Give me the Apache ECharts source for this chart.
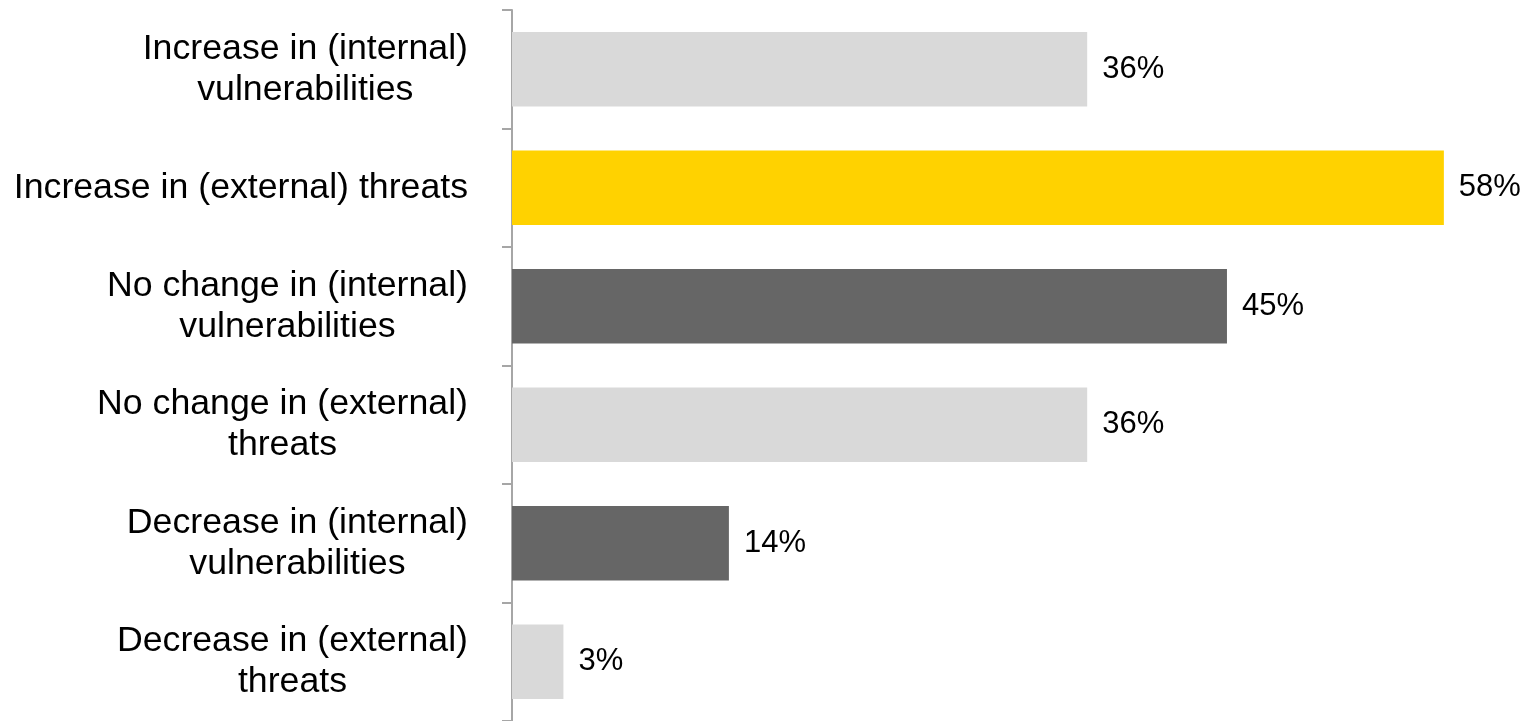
<!DOCTYPE html>
<html>
<head>
<meta charset="utf-8">
<script src="https://cdn.jsdelivr.net/npm/echarts@6/dist/echarts.min.js"></script>
<style>
html,body{margin:0;padding:0;background:#fff;}
#chart{width:1527px;height:721px;}
</style>
</head>
<body>
<div id="chart"></div>
<script>
// Data
const categories = [
  'Increase in (internal)\nvulnerabilities',
  'Increase in (external) threats',
  'No change in (internal)\nvulnerabilities',
  'No change in (external)\nthreats',
  'Decrease in (internal)\nvulnerabilities',
  'Decrease in (external)\nthreats'
];
const values = [35.8, 58.0, 44.5, 35.8, 13.5, 3.2];

// Styles (kept apart from data)
const barColors = ['#d9d9d9', '#ffd200', '#666666', '#d9d9d9', '#666666', '#d9d9d9'];
const FONT = '"Liberation Sans", Arial, sans-serif';

const chart = echarts.init(document.getElementById('chart'), null, {renderer: 'canvas'});
chart.setOption({
  animation: false,
  backgroundColor: '#ffffff',
  grid: {left: 512, right: 51, top: 10, bottom: 0, containLabel: false, outerBoundsMode: 'none'},
  xAxis: {
    type: 'value', min: 0, max: 60, show: false,
    splitLine: {show: false}
  },
  yAxis: {
    type: 'category',
    inverse: true,
    data: categories,
    axisLine: {show: true, lineStyle: {color: '#a6a6a6', width: 2}},
    axisTick: {show: true, length: 10, alignWithLabel: false, lineStyle: {color: '#a6a6a6', width: 2}},
    axisLabel: {
      interval: 0,
      margin: 44,
      align: 'right',
      formatter: function (v) {
        return v.split('\n').map(function (l) { return '{c|' + l + '}'; }).join('\n');
      },
      rich: {
        c: {align: 'center', fontSize: 35.7, lineHeight: 41, fontFamily: FONT, color: '#000000'}
      }
    },
    splitLine: {show: false}
  },
  series: [{
    type: 'bar',
    data: values,
    barCategoryGap: '37%',
    itemStyle: {
      color: function (p) { return barColors[p.dataIndex]; }
    },
    label: {
      show: true,
      position: 'right',
      distance: 15,
      fontSize: 31,
      fontFamily: FONT,
      color: '#000000',
      formatter: function (p) { return Math.round(p.value) + '%'; }
    }
  }]
});
</script>
</body>
</html>
